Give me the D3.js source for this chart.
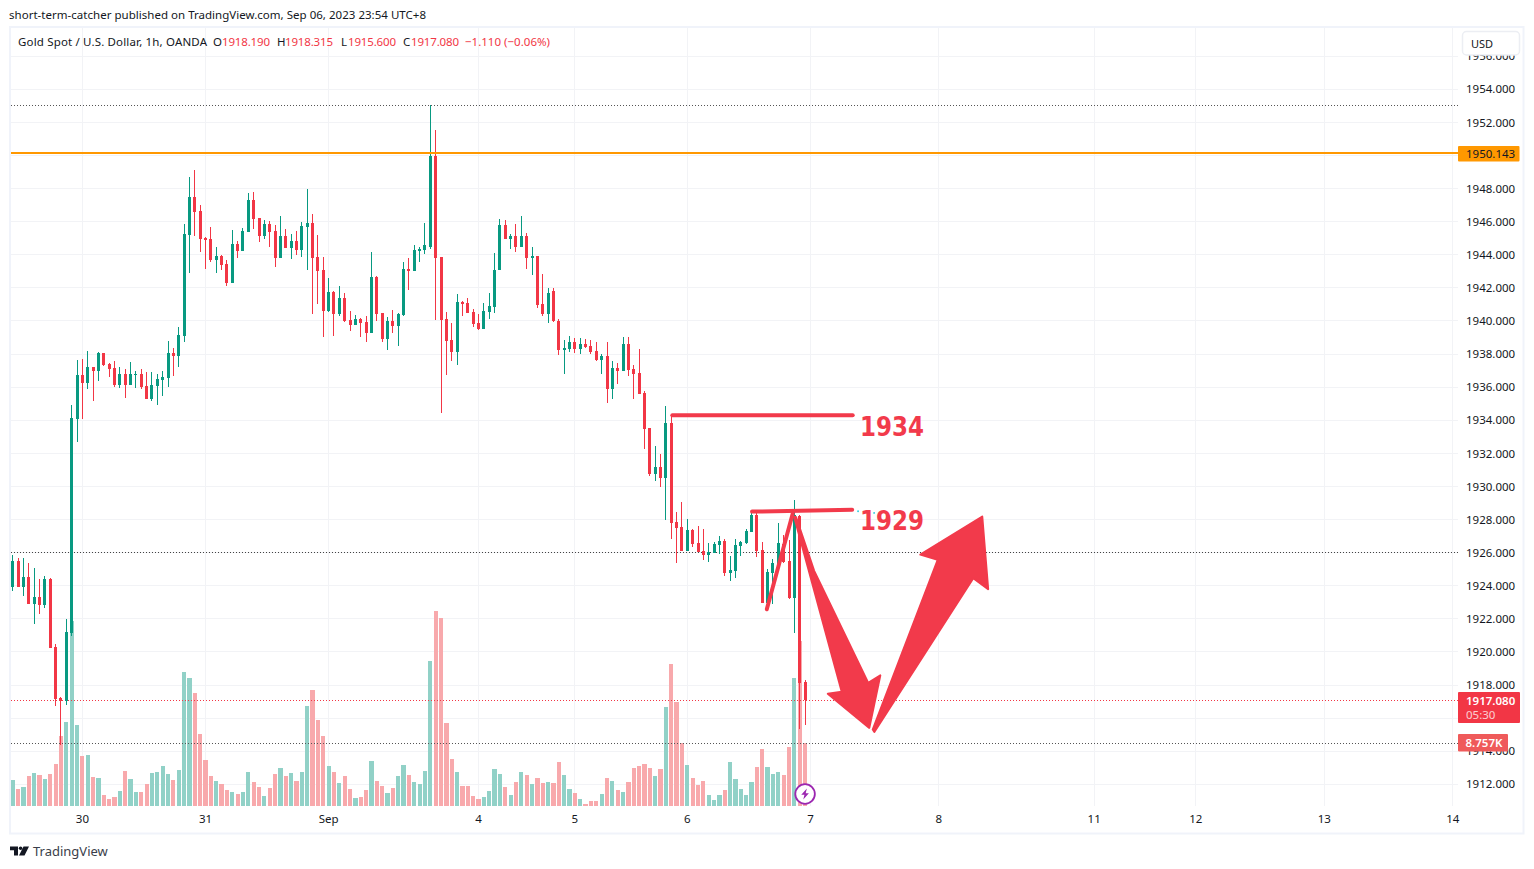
<!DOCTYPE html>
<html><head><meta charset="utf-8">
<script src="https://cdn.jsdelivr.net/npm/d3@7/dist/d3.min.js"></script>
<style>
html,body{margin:0;padding:0;background:#fff;overflow:hidden}
svg{display:block}
text{font-family:"Noto Sans",sans-serif}
</style></head><body><svg id="c" width="1534" height="869"></svg>
<script>
const opens=[1923.90,1925.47,1923.90,1924.50,1922.87,1923.29,1922.81,1924.38,1920.32,1917.23,
1917.05,1921.17,1934.08,1936.75,1936.26,1937.23,1936.99,1938.08,1937.41,1937.17,
1936.14,1936.81,1936.14,1936.75,1936.81,1936.08,1935.29,1936.08,1936.44,1936.57,
1938.08,1937.90,1939.11,1945.17,1947.47,1946.63,1944.99,1944.93,1943.66,1943.90,
1943.47,1942.32,1944.63,1944.20,1945.35,1947.29,1946.20,1945.11,1945.84,1945.41,
1943.78,1945.11,1944.38,1944.81,1944.26,1945.66,1945.90,1943.84,1943.05,1940.63,
1941.78,1940.44,1941.41,1940.08,1939.78,1940.14,1939.96,1939.29,1942.63,1940.50,
1938.93,1940.02,1939.72,1940.38,1943.17,1942.99,1944.20,1944.26,1944.50,1949.96,
1943.84,1940.14,1938.87,1938.14,1941.17,1941.11,1940.57,1939.90,1939.54,1940.57,
1940.87,1943.05,1945.78,1944.93,1945.11,1944.50,1945.11,1943.78,1943.90,1941.05,
1940.44,1941.80,1940.02,1938.26,1938.32,1938.75,1938.32,1938.63,1938.50,1938.20,
1937.66,1937.90,1935.90,1937.17,1936.99,1938.63,1937.11,1936.87,1935.66,1933.54,
1930.75,1931.17,1930.50,1933.84,1927.84,1927.53,1926.08,1927.35,1926.56,1926.08,
1925.84,1925.96,1926.44,1926.69,1924.75,1924.87,1926.38,1926.56,1927.23,1928.26,
1926.14,1922.93,1924.75,1925.29,1926.50,1925.47,1923.23,1928.20,1918.19];
const highs=[1925.84,1925.66,1925.66,1925.35,1925.05,1924.38,1924.57,1924.44,1920.50,1917.30,
1921.96,1934.93,1937.66,1937.72,1938.20,1937.23,1938.14,1938.08,1937.47,1937.60,
1937.23,1937.11,1937.54,1936.99,1937.11,1936.93,1936.93,1936.81,1936.99,1938.81,
1938.38,1939.66,1945.84,1948.69,1949.11,1947.00,1945.05,1945.66,1944.50,1943.96,
1943.66,1945.47,1944.81,1945.60,1947.72,1947.78,1946.20,1946.08,1946.02,1945.78,
1946.32,1945.54,1945.23,1945.41,1945.96,1947.96,1946.44,1945.17,1943.84,1942.57,
1941.84,1942.14,1941.72,1940.63,1940.38,1940.20,1940.32,1944.14,1942.69,1940.50,
1940.26,1940.69,1940.50,1943.54,1943.78,1944.57,1944.44,1945.90,1953.03,1951.54,
1943.84,1940.57,1939.90,1941.60,1941.23,1941.41,1940.75,1940.44,1941.11,1941.72,
1944.08,1946.14,1946.08,1945.23,1945.84,1946.32,1945.29,1944.50,1943.90,1942.81,
1942.02,1942.00,1940.10,1938.87,1939.11,1938.99,1938.99,1938.93,1938.87,1938.75,
1938.02,1938.75,1937.60,1937.47,1939.05,1939.05,1937.35,1938.32,1935.78,1933.54,
1932.44,1931.96,1934.87,1934.30,1928.44,1929.05,1928.02,1927.41,1927.60,1927.41,
1926.56,1926.63,1926.99,1926.81,1925.77,1926.81,1926.69,1927.41,1928.57,1928.57,
1926.63,1924.99,1925.59,1927.78,1927.05,1926.75,1929.19,1928.26,1918.315];
const lows=[1923.66,1923.90,1923.35,1922.87,1921.66,1922.32,1922.63,1920.26,1916.75,1914.38,
1916.81,1920.99,1932.69,1934.08,1935.90,1935.17,1936.38,1937.29,1936.63,1936.02,
1935.96,1935.35,1936.14,1935.96,1935.90,1935.29,1935.17,1934.93,1935.47,1936.02,
1936.69,1937.23,1938.75,1942.87,1945.11,1944.14,1943.17,1943.54,1942.87,1943.11,
1942.14,1942.32,1943.78,1944.20,1945.35,1945.54,1944.75,1944.93,1944.50,1943.29,
1943.78,1944.38,1943.72,1943.96,1943.84,1943.11,1940.44,1941.05,1939.05,1940.57,
1939.11,1940.32,1939.96,1939.41,1939.78,1939.05,1938.75,1939.29,1940.02,1938.75,
1938.26,1939.29,1938.50,1940.32,1941.90,1942.99,1943.54,1944.02,1944.32,1940.08,
1934.44,1936.75,1937.60,1937.35,1940.32,1940.50,1939.66,1939.47,1939.54,1940.14,
1940.50,1943.05,1944.93,1944.32,1944.14,1944.44,1943.17,1942.75,1940.81,1940.32,
1939.90,1939.96,1937.96,1936.81,1938.14,1938.08,1938.02,1938.38,1938.02,1937.60,
1936.81,1935.05,1935.29,1936.20,1936.99,1936.69,1935.29,1935.60,1932.26,1930.63,
1930.32,1929.96,1927.96,1926.81,1925.35,1926.08,1926.08,1926.32,1926.02,1925.53,
1925.41,1925.96,1925.90,1924.57,1924.26,1924.44,1925.78,1926.50,1927.23,1925.72,
1922.93,1922.93,1922.87,1925.29,1925.35,1923.17,1921.16,1915.33,1915.60];
const closes=[1925.47,1923.90,1924.50,1922.87,1923.29,1922.81,1924.38,1920.26,1917.17,1917.05,
1921.23,1934.14,1936.75,1936.26,1937.23,1936.99,1938.08,1937.35,1937.11,1936.14,
1936.81,1936.14,1936.81,1936.81,1936.02,1935.29,1936.14,1936.51,1936.63,1938.08,
1937.90,1939.17,1945.23,1947.47,1946.57,1944.93,1944.87,1943.66,1943.90,1943.41,
1942.32,1944.63,1944.20,1945.41,1947.29,1946.14,1945.11,1945.84,1945.35,1943.78,
1945.11,1944.38,1944.81,1944.26,1945.72,1945.90,1943.78,1942.99,1940.63,1941.78,
1940.44,1941.41,1940.02,1939.78,1940.14,1939.90,1939.29,1942.63,1940.44,1938.93,
1940.02,1939.72,1940.44,1943.17,1942.99,1944.26,1944.32,1944.57,1949.96,1943.78,
1940.08,1938.81,1938.14,1941.17,1941.05,1940.50,1939.84,1939.54,1940.63,1940.93,
1943.11,1945.78,1944.93,1945.11,1944.50,1945.11,1943.78,1943.90,1940.99,1940.44,
1941.72,1940.02,1938.26,1938.38,1938.75,1938.32,1938.63,1938.44,1938.14,1937.66,
1937.90,1935.90,1937.17,1936.99,1938.63,1937.05,1936.81,1935.60,1933.47,1930.75,
1931.17,1930.50,1933.84,1927.78,1927.47,1926.08,1927.35,1926.50,1926.02,1925.84,
1926.02,1926.50,1926.69,1924.75,1924.93,1926.44,1926.63,1927.29,1928.26,1926.08,
1922.93,1924.81,1925.35,1926.56,1925.41,1923.23,1928.26,1918.13,1917.08];
const volumes=[3.63,2.37,2.65,4.19,4.61,4.33,3.77,4.47,5.87,9.78,
11.73,25.84,11.31,6.98,7.12,4.05,3.91,1.54,0.98,1.26,
2.09,4.89,3.77,1.96,1.96,3.07,4.61,4.75,5.59,4.47,
3.63,5.03,18.72,17.88,15.78,10.06,6.42,4.19,3.49,3.07,
2.23,1.96,1.68,1.96,4.75,3.35,2.65,1.40,2.51,4.47,
5.31,4.19,4.61,3.49,4.75,13.97,16.20,12.01,9.78,5.59,
4.75,3.21,4.19,2.37,1.12,1.26,2.23,6.28,3.49,2.79,
1.82,2.51,4.19,5.73,4.33,3.35,3.07,4.89,20.25,27.23,
26.26,11.59,6.56,4.75,2.79,2.79,1.40,0.98,1.26,2.09,
5.17,4.47,2.65,1.54,3.35,4.75,4.33,3.07,3.91,3.21,
3.35,3.21,6.15,4.33,2.37,1.82,0.98,0.28,0.70,0.70,
1.68,3.91,3.49,2.23,1.96,3.35,5.31,5.59,5.87,5.31,
4.19,5.17,13.83,19.83,14.53,8.80,5.73,3.91,2.93,3.49,
1.54,0.84,1.54,2.23,6.15,3.77,2.37,1.54,3.35,5.45,
7.96,5.45,4.47,4.75,4.33,8.24,17.88,23.04,8.757];
const priceGrid=[1912,1914,1916,1918,1920,1922,1924,1926,1928,1930,1932,1934,1936,1938,1940,1942,1944,1946,1948,1950,1952,1954,1956];
const priceTicks=[1912,1914,1918,1920,1922,1924,1926,1928,1930,1932,1934,1936,1938,1940,1942,1944,1946,1948,1952,1954,1956];
const timeBars=[13,36,59,87,105,126,149,173,202,221,245,269];
const timeLabels=["30","31","Sep","4","5","6","7","8","11","12","13","14"];
const lineHigh=1953.03, lineOrange=1950.143, lineMid=1926, lineLast=1917.08, lastVolume=8.757;
const level1934=[[123.2,1934.3],[156.9,1934.3]];
const level1929=[[138.1,1928.48],[156.8,1928.59]];
const wedge=[[140.85,1922.58],[145.7,1928.36]];
const arrowDown=[[145.97,1928.16],[146.3,1928.16],[149.7,1924.9],[159.8,1918.13],[162.06,1918.58],[160.0,1915.41],[152.24,1917.47],[154.85,1917.59]];
const arrowUp=[[160.94,1915.17],[179.42,1924.45],[182.2,1923.79],[181.1,1928.18],[169.53,1925.88],[172.78,1925.56],[160.64,1915.31]];

const GREEN="#089981",RED="#f23645",ANNO="#f23a4b";
const svg=d3.select("#c");
const x=d3.scaleLinear().domain([0,269]).range([12.3,1452.3]);
const y=d3.scaleLinear().domain([1912,1954]).range([784.3,89.3]);
const v=d3.scaleLinear().domain([0,30]).range([806,591.2]);
const bars=d3.range(opens.length);
const crisp=n=>Math.floor(n);
const snap=n=>Math.round(n);

// frame
svg.append("rect").attr("x",10).attr("y",27).attr("width",1513.5).attr("height",806.5)
 .attr("fill","#fff").attr("stroke","#f0f3fa").attr("stroke-width",2);

// grid
const grid=svg.append("g").attr("shape-rendering","crispEdges").attr("stroke","#f2f3f6");
grid.selectAll("line.h").data(priceGrid).join("line").attr("class","h")
 .attr("x1",11).attr("x2",1458).attr("y1",d=>crisp(y(d))+.5).attr("y2",d=>crisp(y(d))+.5);
grid.selectAll("line.v").data(timeBars).join("line").attr("class","v")
 .attr("y1",28).attr("y2",806).attr("x1",d=>snap(x(d))+.5).attr("x2",d=>snap(x(d))+.5);

// volume
svg.append("g").attr("shape-rendering","crispEdges").selectAll("rect").data(bars).join("rect")
 .attr("x",i=>x(i)-1.6).attr("width",4.2)
 .attr("y",i=>v(volumes[i])).attr("height",i=>v(0)-v(volumes[i]))
 .attr("fill",i=>closes[i]>=opens[i]?"#91d1c7":"#f8a9ac");

// dotted lines
const dotted=[[lineHigh,"#555"],[lineMid,"#444"],[lineLast,RED]];
svg.append("g").selectAll("line").data(dotted).join("line")
 .attr("x1",11).attr("x2",1458).attr("y1",d=>crisp(y(d[0]))+.5).attr("y2",d=>crisp(y(d[0]))+.5)
 .style("stroke",d=>d[1]).attr("stroke-dasharray","1 2").attr("stroke-width",1);
svg.append("line").attr("x1",11).attr("x2",1458)
 .attr("y1",crisp(v(lastVolume))+.5).attr("y2",crisp(v(lastVolume))+.5)
 .attr("stroke","#555").attr("stroke-dasharray","1 2");

// candles
const cg=svg.append("g").attr("shape-rendering","crispEdges");
cg.selectAll("rect.w").data(bars).join("rect").attr("class","w")
 .attr("x",i=>snap(x(i))).attr("width",1)
 .attr("y",i=>y(highs[i])).attr("height",i=>Math.max(1,y(lows[i])-y(highs[i])))
 .attr("fill",i=>closes[i]>=opens[i]?GREEN:RED);
cg.selectAll("rect.b").data(bars).join("rect").attr("class","b")
 .attr("x",i=>snap(x(i))-1).attr("width",3)
 .attr("y",i=>y(Math.max(opens[i],closes[i])))
 .attr("height",i=>Math.max(1,Math.abs(y(opens[i])-y(closes[i]))))
 .attr("fill",i=>closes[i]>=opens[i]?GREEN:RED);

// orange line
svg.append("rect").attr("x",11).attr("width",1447).attr("y",Math.round(y(lineOrange))-1).attr("height",2)
 .attr("fill","#ff9800").attr("shape-rendering","crispEdges");

// annotations
const pt=d=>[x(d[0])+.5,y(d[1])];
const ln=d3.line().x(d=>pt(d)[0]).y(d=>pt(d)[1]);
[level1934,level1929,wedge].forEach(a=>svg.append("path").attr("d",ln(a)).attr("fill","none")
 .attr("stroke",ANNO).attr("stroke-width",4).attr("stroke-linecap","round"));
[arrowDown,arrowUp].forEach(a=>svg.append("path").attr("d",ln(a)+"Z").attr("fill",ANNO)
 .attr("stroke",ANNO).attr("stroke-width",2).attr("stroke-linejoin","round"));
[[1934,860,436],[1929,860,530]].forEach(d=>svg.append("text").text(d[0]).attr("x",d[1]).attr("y",d[2])
 .attr("textLength",64).attr("lengthAdjust","spacingAndGlyphs")
 .style("font-family","'DejaVu Sans'").attr("font-weight","bold").attr("font-size",26.5).attr("fill",ANNO));
svg.selectAll("circle.dot").data([[157.9,1928.5],[160.9,1928.4]]).join("circle").attr("class","dot")
 .attr("cx",d=>pt(d)[0]).attr("cy",d=>pt(d)[1]).attr("r",.9).attr("fill","#27c9dd");

// axes
const ax=d3.axisRight(y).tickValues(priceTicks).tickFormat(d3.format(".3f")).tickSize(0).tickPadding(8);
const gy=svg.append("g").attr("transform","translate(1458,0)").call(ax);
gy.select(".domain").remove();
gy.selectAll("text").style("font-family","'Noto Sans'").attr("font-size",11.5).attr("fill","#131722");
const ab=d3.axisBottom(x).tickValues(timeBars).tickFormat((d,i)=>timeLabels[i]).tickSize(0).tickPadding(8);
const gx=svg.append("g").attr("transform","translate(0,807)").call(ab);
gx.select(".domain").remove();
gx.selectAll("text").style("font-family","'Noto Sans'").attr("font-size",11.5).attr("fill","#131722");

// price tags
function tag(x0,y0,w,h,fill){svg.append("rect").attr("x",x0).attr("y",y0).attr("width",w).attr("height",h).attr("fill",fill).attr("rx",1);}
function lab(t,xp,yp,fill,size,weight,op){return svg.append("text").text(t).attr("x",xp).attr("y",yp).attr("fill",fill)
 .attr("font-size",size).attr("font-weight",weight||"normal").attr("opacity",op||1);}
tag(1458,146,61.5,15.5,"#ff9800"); lab("1950.143",1466,157.5,"#131722",11.5);
tag(1458,692,62,31,RED); lab("1917.080",1466,705,"#fff",11.5,600); lab("05:30",1466,719,"#fff",11.5,400,.75);
tag(1458,734,50,17.5,"#ef5a5a"); lab("8.757K",1465.5,747,"#fff",11.5,600);

// USD button
svg.append("rect").attr("x",1462.5).attr("y",31.5).attr("width",57).attr("height",23.5).attr("rx",4)
 .attr("fill","#fff").attr("stroke","#eceef3").attr("stroke-width",1.5);
lab("USD",1471,47.5,"#131722",11);

// header
lab("short-term-catcher published on TradingView.com, Sep 06, 2023 23:54 UTC+8",9,19,"#131722",11.5).attr("textLength",417);
lab("Gold Spot / U.S. Dollar, 1h, OANDA",18,46,"#131722",11.5).attr("textLength",189);
[["O",213,"1918.190",222],["H",277,"1918.315",285],["L",341,"1915.600",348],["C",403,"1917.080",411]].forEach(d=>{
 lab(d[0],d[1],46,"#131722",11.5); lab(d[2],d[3],46,RED,11.5).attr("textLength",48);
});
lab("\u22121.110 (\u22120.06%)",465,46,RED,11.5).attr("textLength",85);

// lightning badge
const bx=x(148)+.5, by=794;
svg.append("circle").attr("cx",bx).attr("cy",by).attr("r",9.8).attr("fill","#fff").attr("stroke","#9c27b0").attr("stroke-width",1.8);
svg.append("path").attr("transform",`translate(${bx},${by})`).attr("fill","#9c27b0")
 .attr("d","M1.8 -5.5 L-3.8 0.8 L-0.6 0.8 L-1.8 5.5 L3.8 -0.8 L0.6 -0.8 Z");

// logo
svg.append("path").attr("fill","#131722").attr("d","M10 846.5h8v9h-4v-5.3h-4zM23.5 846.5h5.5l-4.5 9h-5.5z");
svg.append("circle").attr("cx",20.6).attr("cy",848.3).attr("r",1.8).attr("fill","#131722");
lab("TradingView",33,856,"#3a3e4a",13);
</script></body></html>
